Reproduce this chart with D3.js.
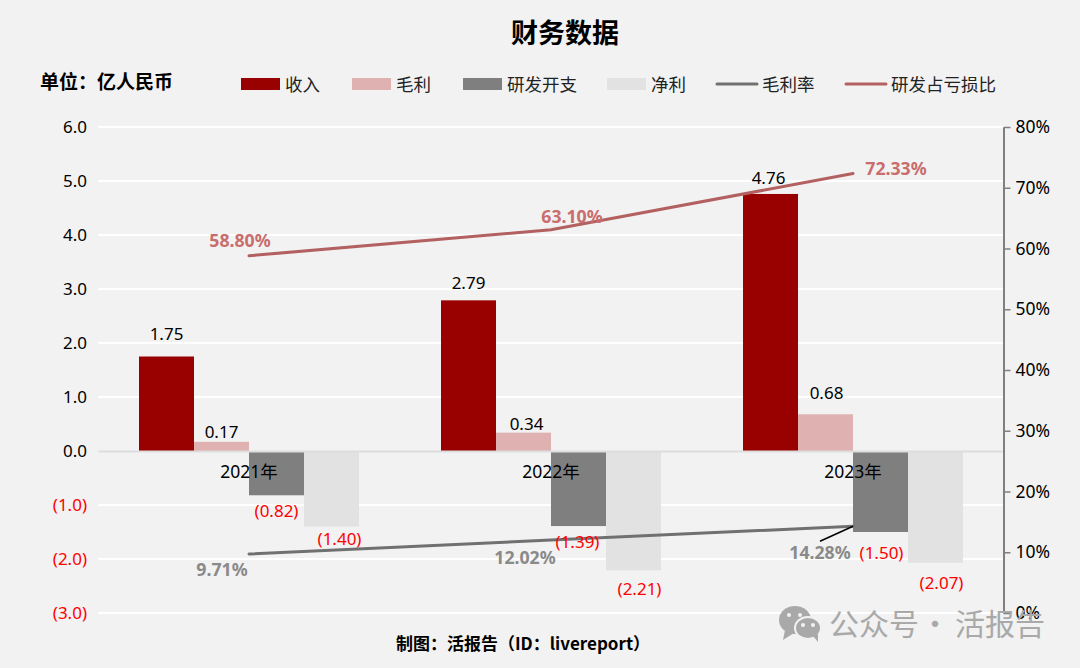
<!DOCTYPE html>
<html>
<head>
<meta charset="utf-8">
<script src="https://cdn.jsdelivr.net/npm/d3@7"></script>
<style>
  html, body { margin: 0; padding: 0; background: #f2f2f2; }
  svg { display: block; }
  text { font-family: "Noto Sans", "Noto Sans CJK SC", sans-serif; }
</style>
</head>
<body>
<div id="chart"></div>
<script>
// data
const years = ['2021年', '2022年', '2023年'];
const revenue = [1.75, 2.79, 4.76];
const grossProfit = [0.17, 0.34, 0.68];
const rdExpense = [-0.82, -1.39, -1.50];
const netProfit = [-1.40, -2.21, -2.07];
const grossMargin = [9.71, 12.02, 14.28];
const rdShare = [58.80, 63.10, 72.33];
const leftTicks = [-3, -2, -1, 0, 1, 2, 3, 4, 5, 6];
const rightTicks = [0, 10, 20, 30, 40, 50, 60, 70, 80];
const barNames = ['收入', '毛利', '研发开支', '净利'];
const lineNames = ['毛利率', '研发占亏损比'];

const width = 1080, height = 668;
const margin = {top: 127, right: 76, bottom: 55, left: 98};
const barColors = ['#990000', '#e0b1b1', '#7f7f7f', '#e2e2e2'];
const lineColors = ['#707070', '#b36060'];
const labelColors = ['#8a8a8a', '#c96d6d'];

const svg = d3.select('#chart').append('svg')
  .attr('width', width)
  .attr('height', height)
  .style('background', '#f2f2f2');

const x0 = d3.scaleBand().domain(years).range([margin.left, width - margin.right]);
const x1 = d3.scaleBand().domain(barNames)
  .range([x0.bandwidth() / 2 - 110, x0.bandwidth() / 2 + 110]);
const yL = d3.scaleLinear().domain([-3, 6]).range([height - margin.bottom, margin.top]);
const yR = d3.scaleLinear().domain([0, 80]).range([height - margin.bottom, margin.top]);

const fmtLeft = d => d < 0 ? `(${Math.abs(d).toFixed(1)})` : d.toFixed(1);
const fmtVal = d => d < 0 ? `(${Math.abs(d).toFixed(2)})` : d.toFixed(2);
const fmtPct = d => d.toFixed(2) + '%';

// gridlines
svg.append('g').selectAll('line')
  .data(leftTicks.filter(d => d !== 0))
  .enter().append('line')
  .attr('x1', margin.left)
  .attr('x2', width - margin.right)
  .attr('y1', d => yL(d))
  .attr('y2', d => yL(d))
  .style('stroke', '#ffffff')
  .style('stroke-width', 2);

// bars
const barSeries = [revenue, grossProfit, rdExpense, netProfit];
barSeries.forEach((vals, s) => {
  svg.append('g').selectAll('rect')
    .data(vals)
    .enter().append('rect')
    .attr('x', (d, i) => x0(years[i]) + x1(barNames[s]))
    .attr('width', x1.bandwidth())
    .attr('y', d => Math.min(yL(d), yL(0)))
    .attr('height', d => Math.abs(yL(d) - yL(0)))
    .style('fill', barColors[s]);
});

// category axis sits on the zero line, labels run over the bars
const xAxis = svg.append('g')
  .attr('transform', `translate(0,${yL(0)})`)
  .call(d3.axisBottom(x0).tickSize(0).tickPadding(15));
xAxis.select('.domain').style('stroke', '#dddddd').style('stroke-width', 2);
xAxis.selectAll('text').style('font-size', '17.5px').style('fill', '#000');

// left axis
const leftAxis = svg.append('g')
  .attr('transform', `translate(${margin.left - 11},0)`)
  .call(d3.axisLeft(yL).tickValues(leftTicks).tickFormat(fmtLeft).tickSize(0).tickPadding(0));
leftAxis.select('.domain').remove();
leftAxis.selectAll('text')
  .style('font-size', '17px')
  .style('fill', d => d < 0 ? '#ff0000' : '#000');

// right axis
const rightAxis = svg.append('g')
  .attr('transform', `translate(${width - margin.right - 0.5},0)`)
  .call(d3.axisRight(yR).tickValues(rightTicks).tickFormat(d => d + '%').tickSize(7).tickSizeOuter(0).tickPadding(5));
rightAxis.select('.domain').style('stroke', '#7f7f7f').style('stroke-width', 2);
rightAxis.selectAll('line').style('stroke', '#7f7f7f').style('stroke-width', 1.5);
rightAxis.selectAll('text').style('font-size', '17.5px').style('fill', '#000');

// lines
const lineX = (d, i) => x0(years[i]) + x0.bandwidth() / 2;
const lineGen = d3.line().x(lineX).y(d => yR(d)).curve(d3.curveLinear);
[grossMargin, rdShare].forEach((vals, s) => {
  svg.append('path')
    .datum(vals)
    .attr('d', lineGen)
    .style('fill', 'none')
    .style('stroke', lineColors[s])
    .style('stroke-width', 3)
    .style('stroke-linecap', 'round');
});

// leader line for 14.28%
svg.append('line')
  .attr('x1', lineX(0, 2))
  .attr('y1', yR(grossMargin[2]))
  .attr('x2', lineX(0, 2) - 33)
  .attr('y2', yR(grossMargin[2]) + 15)
  .style('stroke', '#000')
  .style('stroke-width', 1.5);

// value labels, hand-placed like the original
const barLabelNudge = [
  [[0, -22], [0, -17], [-2, -16]],
  [[0, -10], [3, -9], [1, -21]],
  [[0, 16], [-1, 16], [1, 21]],
  [[8, 12], [6, 19], [6, 20]]
];
barSeries.forEach((vals, s) => {
  svg.append('g').selectAll('text')
    .data(vals)
    .enter().append('text')
    .attr('x', (d, i) => x0(years[i]) + x1(barNames[s]) + x1.bandwidth() / 2 + barLabelNudge[s][i][0])
    .attr('y', (d, i) => yL(d) + barLabelNudge[s][i][1])
    .attr('dy', '.35em')
    .style('text-anchor', 'middle')
    .style('font-size', '17px')
    .style('fill', d => d < 0 ? '#ff0000' : '#000')
    .text(fmtVal);
});

const lineLabelNudge = [
  [[-27, 16], [-26, 18], [-33, 27]],
  [[-9, -15], [21, -13], [43, -5]]
];
[grossMargin, rdShare].forEach((vals, s) => {
  svg.append('g').selectAll('text')
    .data(vals)
    .enter().append('text')
    .attr('x', (d, i) => lineX(d, i) + lineLabelNudge[s][i][0])
    .attr('y', (d, i) => yR(d) + lineLabelNudge[s][i][1])
    .attr('dy', '.35em')
    .style('text-anchor', 'middle')
    .style('font-size', '17.7px')
    .style('font-weight', 'bold')
    .style('fill', labelColors[s])
    .text(fmtPct);
});

// title and notes
svg.append('text')
  .attr('x', 565).attr('y', 43)
  .style('text-anchor', 'middle')
  .style('font-size', '27px')
  .style('font-weight', 'bold')
  .style('font-family', '"Noto Sans CJK SC"')
  .text('财务数据');

svg.append('text')
  .attr('x', 40).attr('y', 89)
  .style('font-size', '19px')
  .style('font-weight', 'bold')
  .style('font-family', '"Noto Sans CJK SC"')
  .text('单位：亿人民币');

svg.append('text')
  .attr('x', 396).attr('y', 650)
  .style('font-size', '17px')
  .style('font-weight', 'bold')
  .style('font-family', '"Noto Sans CJK SC"')
  .text('制图：活报告（ID：livereport）');

// legend
const legendBarX = [241, 352, 463, 607];
const legendLineX = [717, 846];
const legendY = 84;
barNames.forEach((name, i) => {
  svg.append('rect')
    .attr('x', legendBarX[i]).attr('y', legendY - 6)
    .attr('width', 39).attr('height', 12)
    .style('fill', barColors[i]);
  svg.append('text')
    .attr('x', legendBarX[i] + 44).attr('y', legendY + 7)
    .style('font-size', '17.5px')
    .style('fill', '#222')
    .style('font-family', '"Noto Sans CJK SC"')
    .text(name);
});
lineNames.forEach((name, i) => {
  svg.append('line')
    .attr('x1', legendLineX[i]).attr('x2', legendLineX[i] + 40)
    .attr('y1', legendY).attr('y2', legendY)
    .style('stroke', lineColors[i])
    .style('stroke-width', 3)
    .style('stroke-linecap', 'round');
  svg.append('text')
    .attr('x', legendLineX[i] + 45).attr('y', legendY + 7)
    .style('font-size', '17.5px')
    .style('fill', '#222')
    .style('font-family', '"Noto Sans CJK SC"')
    .text(name);
});

// watermark
const mark = svg.append('g').style('fill', '#a9a9a9');
mark.append('ellipse').attr('cx', 795).attr('cy', 620).attr('rx', 16).attr('ry', 14);
mark.append('path').attr('d', 'M785 630 L783 640 L794 633 Z');
mark.append('ellipse').attr('cx', 808).attr('cy', 628).attr('rx', 13).attr('ry', 11)
  .style('stroke', '#f2f2f2').style('stroke-width', 2);
mark.append('path').attr('d', 'M813 636 L818 642 L818 634 Z');
[[789, 615], [800, 615], [803, 625], [813, 625]].forEach(p => {
  mark.append('circle').attr('cx', p[0]).attr('cy', p[1]).attr('r', 2).style('fill', '#f2f2f2');
});
const markText = [['公众号', 829], ['·', 920], ['活报告', 955]];
markText.forEach(t => {
  mark.append('text')
    .attr('x', t[1]).attr('y', 635)
    .style('font-size', '30px')
    .style('font-family', '"Noto Sans CJK SC"')
    .text(t[0]);
});
</script>
</body>
</html>
